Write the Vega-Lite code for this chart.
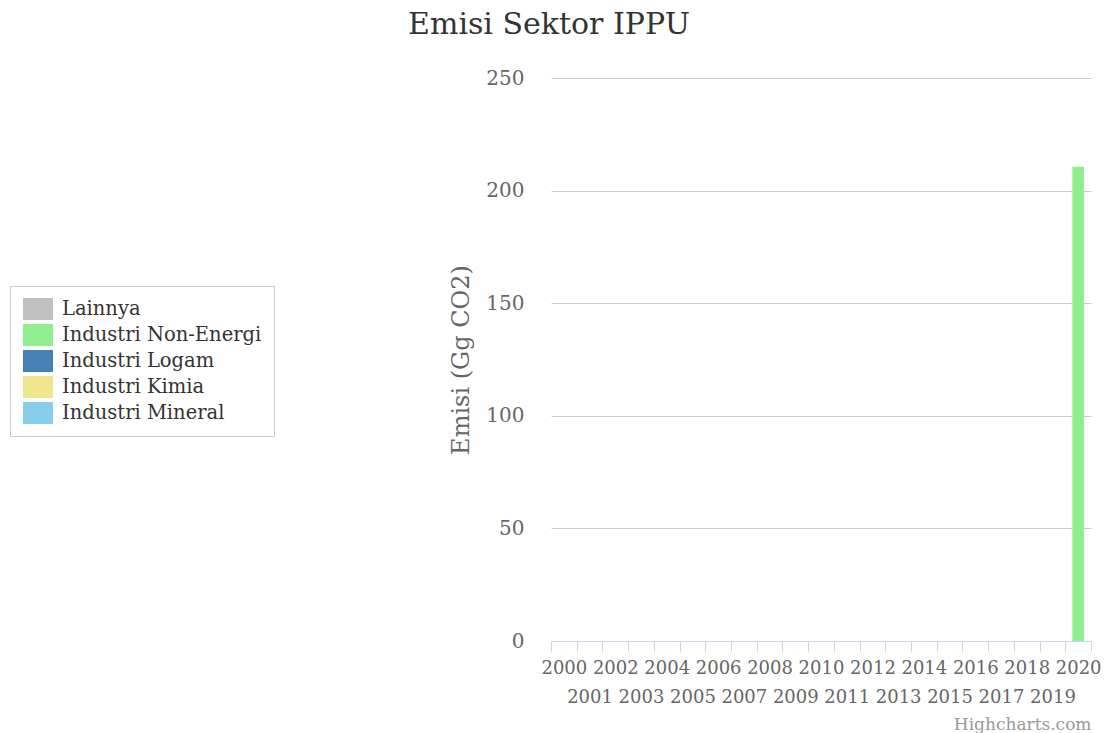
{
  "$schema": "https://vega.github.io/schema/vega-lite/v6.json",
  "width": 540,
  "height": 563,
  "autosize": {"type": "none"},
  "padding": {"left": 551, "top": 78, "right": 18, "bottom": 92},
  "background": "#ffffff",
  "title": {
    "text": "Emisi Sektor IPPU",
    "anchor": "middle",
    "dx": -272,
    "fontSize": 30,
    "fontWeight": "normal",
    "color": "#333333",
    "offset": 28
  },
  "data": {
    "values": [
      {"tahun": 2000, "sektor": "Industri Non-Energi", "emisi": 0},
      {"tahun": 2001, "sektor": "Industri Non-Energi", "emisi": 0},
      {"tahun": 2002, "sektor": "Industri Non-Energi", "emisi": 0},
      {"tahun": 2003, "sektor": "Industri Non-Energi", "emisi": 0},
      {"tahun": 2004, "sektor": "Industri Non-Energi", "emisi": 0},
      {"tahun": 2005, "sektor": "Industri Non-Energi", "emisi": 0},
      {"tahun": 2006, "sektor": "Industri Non-Energi", "emisi": 0},
      {"tahun": 2007, "sektor": "Industri Non-Energi", "emisi": 0},
      {"tahun": 2008, "sektor": "Industri Non-Energi", "emisi": 0},
      {"tahun": 2009, "sektor": "Industri Non-Energi", "emisi": 0},
      {"tahun": 2010, "sektor": "Industri Non-Energi", "emisi": 0},
      {"tahun": 2011, "sektor": "Industri Non-Energi", "emisi": 0},
      {"tahun": 2012, "sektor": "Industri Non-Energi", "emisi": 0},
      {"tahun": 2013, "sektor": "Industri Non-Energi", "emisi": 0},
      {"tahun": 2014, "sektor": "Industri Non-Energi", "emisi": 0},
      {"tahun": 2015, "sektor": "Industri Non-Energi", "emisi": 0},
      {"tahun": 2016, "sektor": "Industri Non-Energi", "emisi": 0},
      {"tahun": 2017, "sektor": "Industri Non-Energi", "emisi": 0},
      {"tahun": 2018, "sektor": "Industri Non-Energi", "emisi": 0},
      {"tahun": 2019, "sektor": "Industri Non-Energi", "emisi": 0},
      {"tahun": 2020, "sektor": "Industri Mineral", "emisi": 0},
      {"tahun": 2020, "sektor": "Industri Kimia", "emisi": 0},
      {"tahun": 2020, "sektor": "Industri Logam", "emisi": 0},
      {"tahun": 2020, "sektor": "Industri Non-Energi", "emisi": 210.6},
      {"tahun": 2020, "sektor": "Lainnya", "emisi": 0}
    ]
  },
  "mark": {"type": "bar", "width": {"band": 0.45}},
  "encoding": {
    "x": {
      "field": "tahun",
      "type": "ordinal",
      "scale": {
        "domain": [2000,2001,2002,2003,2004,2005,2006,2007,2008,2009,2010,2011,2012,2013,2014,2015,2016,2017,2018,2019,2020],
        "paddingInner": 0,
        "paddingOuter": 0
      },
      "axis": {
        "title": "Highcharts.com",
        "titleAnchor": "end",
        "titleColor": "#999999",
        "titleFontSize": 17,
        "titleFontWeight": "normal",
        "titlePadding": 10,
        "labelAngle": 0,
        "labelFontSize": 18,
        "labelColor": "#666666",
        "labelPadding": 8,
        "labelLineHeight": 29,
        "labelBaseline": "top",
        "labelOverlap": false,
        "labelExpr": "datum.value % 2 == 1 ? ['', datum.label] : datum.label",
        "tickBand": "extent",
        "tickSize": 10,
        "tickColor": "#ccd6eb",
        "domainColor": "#ccd6eb",
        "grid": false
      }
    },
    "y": {
      "field": "emisi",
      "type": "quantitative",
      "stack": "zero",
      "scale": {"domain": [0, 250], "nice": false},
      "axis": {
        "title": "Emisi (Gg CO2)",
        "titleFontSize": 24,
        "titleFontWeight": "normal",
        "titleColor": "#666666",
        "titlePadding": 12,
        "values": [0, 50, 100, 150, 200, 250],
        "labelFontSize": 20,
        "labelColor": "#666666",
        "labelPadding": 27,
        "ticks": false,
        "domain": false,
        "grid": true,
        "gridColor": "#cccccc"
      }
    },
    "color": {
      "field": "sektor",
      "type": "nominal",
      "scale": {
        "domain": ["Lainnya", "Industri Non-Energi", "Industri Logam", "Industri Kimia", "Industri Mineral"],
        "range": ["#C0C0C0", "#90EE90", "#4682B4", "#F0E68C", "#87CEEB"]
      },
      "legend": {
        "title": null,
        "orient": "none",
        "legendX": -541,
        "legendY": 208,
        "padding": 12,
        "strokeColor": "#cccccc",
        "symbolType": "M-1.364,-1H1.364V1H-1.364Z",
        "symbolSize": 484,
        "symbolOffset": 5,
        "symbolStrokeWidth": 0,
        "symbolOpacity": 1,
        "rowPadding": 4,
        "labelOffset": 13,
        "labelFontSize": 19.5,
        "labelColor": "#333333",
        "labelLimit": 400,
        "encoding": {
          "legend": {"update": {"width": {"value": 386}}}
        }
      }
    },
    "order": {"field": "sektor", "type": "nominal"}
  },
  "config": {
    "font": "DejaVu Serif",
    "view": {"stroke": null}
  }
}
